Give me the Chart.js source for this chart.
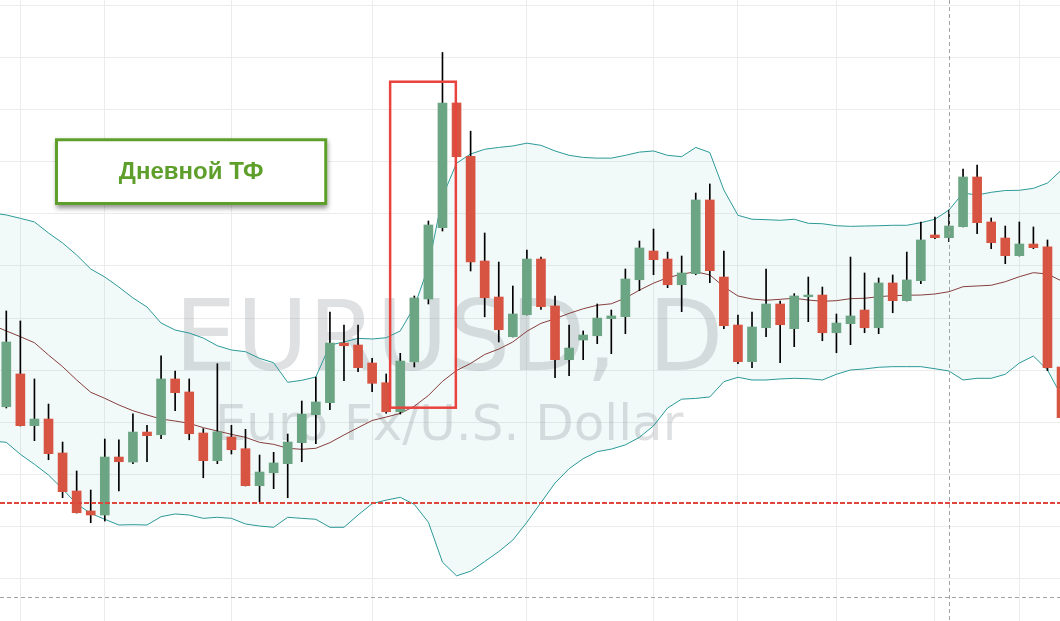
<!DOCTYPE html>
<html>
<head>
<meta charset="utf-8">
<script src="https://cdn.jsdelivr.net/npm/chart.js@4.4.1/dist/chart.umd.min.js"></script>
<style>
  html, body { margin: 0; padding: 0; background: #ffffff; }
  #wrap { width: 1060px; height: 621px; }
</style>
</head>
<body>
<div id="wrap"><canvas id="chart" width="1060" height="621"></canvas></div>
<script>
// EURUSD daily candles, oldest first
const opens = [
  1.11648, 1.11963, 1.11466, 1.11530, 1.11204, 1.10839, 1.10647, 1.10608, 1.11165, 1.11117,
  1.11405, 1.11379, 1.11915, 1.11790, 1.11396, 1.11130, 1.11357, 1.11245, 1.10890, 1.11014,
  1.11101, 1.11303, 1.11572, 1.11687, 1.12260, 1.12241, 1.12068, 1.11879, 1.11600, 1.12078,
  1.12683, 1.13368, 1.14566, 1.14054, 1.13048, 1.12702, 1.12321, 1.12532, 1.13067, 1.12616,
  1.12100, 1.12289, 1.12330, 1.12494, 1.12513, 1.12868, 1.13144, 1.13067, 1.12820, 1.12926,
  1.13634, 1.12894, 1.12433, 1.12081, 1.12407, 1.12635, 1.12398, 1.12705, 1.12721, 1.12359,
  1.12446, 1.12577, 1.12407, 1.12837, 1.12667, 1.12859, 1.13298, 1.13272, 1.13378, 1.13855,
  1.13423, 1.13269, 1.13099, 1.13211, 1.13183, 1.12030
];
const highs = [
  1.12568, 1.12472, 1.11915, 1.11674, 1.11309, 1.11031, 1.10848, 1.11338, 1.11331, 1.11581,
  1.11470, 1.12138, 1.11991, 1.11915, 1.11437, 1.12061, 1.11470, 1.11431, 1.11184, 1.11210,
  1.11386, 1.11703, 1.11934, 1.12558, 1.12433, 1.12433, 1.12113, 1.11963, 1.12161, 1.12712,
  1.13432, 1.15051, 1.14566, 1.14295, 1.13317, 1.13038, 1.12808, 1.13154, 1.13086, 1.12712,
  1.12433, 1.12376, 1.12635, 1.12577, 1.12971, 1.13240, 1.13355, 1.13134, 1.13096, 1.13701,
  1.13788, 1.13144, 1.12529, 1.12558, 1.12971, 1.12664, 1.12734, 1.12894, 1.12798, 1.12539,
  1.13086, 1.12933, 1.12885, 1.12914, 1.13134, 1.13423, 1.13471, 1.13538, 1.13932, 1.13970,
  1.13461, 1.13384, 1.13423, 1.13375, 1.13250, 1.12030
];
const lows = [
  1.11636, 1.11463, 1.11322, 1.11139, 1.10774, 1.10627, 1.10534, 1.10550, 1.10839, 1.11101,
  1.11120, 1.11341, 1.11610, 1.11331, 1.10966, 1.11101, 1.11194, 1.10887, 1.10736, 1.10861,
  1.10774, 1.11120, 1.11293, 1.11620, 1.11898, 1.11985, 1.11793, 1.11585, 1.11578, 1.12030,
  1.12635, 1.13336, 1.14050, 1.12952, 1.12512, 1.12270, 1.12318, 1.12529, 1.12584, 1.11927,
  1.11946, 1.12100, 1.12254, 1.12158, 1.12350, 1.12763, 1.12916, 1.12792, 1.12561, 1.12916,
  1.12840, 1.12398, 1.12061, 1.12023, 1.12321, 1.12071, 1.12225, 1.12465, 1.12282, 1.12167,
  1.12244, 1.12359, 1.12350, 1.12551, 1.12664, 1.12830, 1.13262, 1.13233, 1.13375, 1.13310,
  1.13166, 1.13022, 1.13096, 1.13166, 1.11994, 1.11543
];
const closes = [
  1.12270, 1.11466, 1.11530, 1.11197, 1.10832, 1.10630, 1.10608, 1.11165, 1.11120, 1.11405,
  1.11370, 1.11915, 1.11783, 1.11389, 1.11130, 1.11408, 1.11235, 1.10890, 1.11021, 1.11108,
  1.11309, 1.11578, 1.11694, 1.12260, 1.12234, 1.12023, 1.11873, 1.11600, 1.12087, 1.12693,
  1.13394, 1.14566, 1.14050, 1.13038, 1.12695, 1.12388, 1.12539, 1.13067, 1.12609, 1.12100,
  1.12212, 1.12337, 1.12500, 1.12520, 1.12875, 1.13173, 1.13061, 1.12820, 1.12933, 1.13634,
  1.12955, 1.12427, 1.12081, 1.12414, 1.12635, 1.12436, 1.12712, 1.12721, 1.12359, 1.12452,
  1.12520, 1.12407, 1.12837, 1.12667, 1.12866, 1.13250, 1.13272, 1.13384, 1.13855, 1.13416,
  1.13224, 1.13099, 1.13211, 1.13176, 1.12023, 1.11543
];

// Bollinger bands; these start one bar earlier (just off the left edge)
const bbUpper = [
  1.13509,
  1.13490, 1.13458, 1.13423, 1.13317, 1.13221, 1.13106, 1.12971, 1.12894, 1.12798, 1.12693,
  1.12606, 1.12452, 1.12385, 1.12356, 1.12308, 1.12234, 1.12193, 1.12177, 1.12113, 1.12071,
  1.11883, 1.11902, 1.11934, 1.12241, 1.12270, 1.12305, 1.12299, 1.12311, 1.12376, 1.12609,
  1.12993, 1.13666, 1.13987, 1.14076, 1.14121, 1.14139, 1.14153, 1.14180, 1.14159, 1.14105,
  1.14063, 1.14043, 1.14036, 1.14036, 1.14063, 1.14094, 1.14105, 1.14063, 1.14050, 1.14139,
  1.14090, 1.13730, 1.13487, 1.13449, 1.13445, 1.13439, 1.13449, 1.13410, 1.13406, 1.13387,
  1.13381, 1.13384, 1.13387, 1.13391, 1.13391, 1.13416, 1.13449, 1.13538, 1.13701, 1.13682,
  1.13708, 1.13725, 1.13727, 1.13746, 1.13797, 1.13922
];
const bbBasis = [
  1.12433,
  1.12376, 1.12321, 1.12263, 1.12145, 1.12033, 1.11905, 1.11787, 1.11729, 1.11665, 1.11610,
  1.11569, 1.11530, 1.11511, 1.11489, 1.11447, 1.11415, 1.11383, 1.11354, 1.11306, 1.11287,
  1.11249, 1.11239, 1.11249, 1.11303, 1.11377, 1.11447, 1.11516, 1.11549, 1.11584, 1.11653,
  1.11756, 1.11892, 1.11996, 1.12064, 1.12150, 1.12202, 1.12270, 1.12373, 1.12449, 1.12493,
  1.12545, 1.12589, 1.12623, 1.12637, 1.12692, 1.12768, 1.12835, 1.12888, 1.12921, 1.12945,
  1.12914, 1.12801, 1.12712, 1.12683, 1.12671, 1.12680, 1.12690, 1.12673, 1.12661, 1.12667,
  1.12686, 1.12690, 1.12705, 1.12715, 1.12719, 1.12721, 1.12731, 1.12753, 1.12801, 1.12808,
  1.12815, 1.12849, 1.12897, 1.12936, 1.12923, 1.12856
];
const bbLower = [
  1.11319,
  1.11306, 1.11191, 1.11095, 1.10992, 1.10858, 1.10714, 1.10624, 1.10567, 1.10512, 1.10515,
  1.10512, 1.10592, 1.10618, 1.10608, 1.10576, 1.10586, 1.10576, 1.10522, 1.10502, 1.10490,
  1.10586, 1.10576, 1.10567, 1.10490, 1.10490, 1.10608, 1.10717, 1.10751, 1.10778, 1.10710,
  1.10538, 1.10155, 1.10024, 1.10068, 1.10161, 1.10257, 1.10367, 1.10538, 1.10727, 1.10915,
  1.11053, 1.11149, 1.11217, 1.11241, 1.11282, 1.11354, 1.11464, 1.11636, 1.11721, 1.11728,
  1.11742, 1.11889, 1.11931, 1.11905, 1.11905, 1.11915, 1.11921, 1.11917, 1.11905, 1.11960,
  1.12001, 1.12011, 1.12027, 1.12033, 1.12033, 1.12033, 1.12013, 1.11991, 1.11905, 1.11921,
  1.11921, 1.11960, 1.12068, 1.12135, 1.12001, 1.11751
];

// grid: price levels every 50 pips, time lines at these candles
const priceGrid = [1.100, 1.105, 1.110, 1.115, 1.120, 1.125, 1.130, 1.135, 1.140, 1.145, 1.150, 1.155];
const timeGrid = [1, 7, 16, 26, 37, 46, 52, 59, 66, 72];

// drawings on the chart
const levelPrice = 1.10720;
const crossCandle = 67;
const crossPrice = 1.09825;
const boxCandles = [27.28, 31.95];
const boxPrices = [1.11639, 1.14770];
const labelText = "Дневной ТФ";
const labelCandles = [3.46, 22.81];
const labelPrices = [1.13586, 1.14227];
const watermark = ["EURUSD, D", "Euro Fx/U.S. Dollar"];

const UP = "#6ba583";
const DOWN = "#d75442";
const GRID = "#ececec";
const BAND = "#2b9a98";

const idx = opens.map((_, i) => i);
const bodies = idx.map(i => ({ x: i, y: [opens[i], closes[i]] }));
const wicks = idx.map(i => ({ x: i, y: [lows[i], highs[i]] }));
const candleColors = idx.map(i => (closes[i] >= opens[i] ? UP : DOWN));
const asLine = arr => arr.map((v, i) => ({ x: i - 1, y: v }));

// big pair name behind the chart
const watermarkPlugin = {
  id: "watermark",
  beforeDatasetsDraw(chart) {
    const { ctx } = chart;
    ctx.save();
    ctx.fillStyle = "rgba(140,145,150,0.28)";
    ctx.textAlign = "center";
    ctx.textBaseline = "alphabetic";
    ctx.font = '98px "DejaVu Sans"';
    ctx.fillText(watermark[0], 449, 370);
    ctx.font = '50px "DejaVu Sans"';
    ctx.fillText(watermark[1], 449, 440);
    ctx.restore();
  }
};

// level line, crosshair, highlight box and the label
const drawingsPlugin = {
  id: "drawings",
  afterDatasetsDraw(chart) {
    const { ctx, chartArea: a, scales: { x, y } } = chart;
    ctx.save();

    // dotted support level
    const ly = Math.round(y.getPixelForValue(levelPrice));
    ctx.strokeStyle = "#e0473c";
    ctx.lineWidth = 2;
    ctx.setLineDash([5, 2]);
    ctx.beginPath();
    ctx.moveTo(a.left, ly);
    ctx.lineTo(a.right, ly);
    ctx.stroke();

    // crosshair
    const cx = Math.round(x.getPixelForValue(crossCandle)) + 0.5;
    const cy = Math.round(y.getPixelForValue(crossPrice)) + 0.5;
    ctx.strokeStyle = "#a3a3a3";
    ctx.lineWidth = 1;
    ctx.setLineDash([4, 3]);
    ctx.beginPath();
    ctx.moveTo(cx, a.top);
    ctx.lineTo(cx, a.bottom);
    ctx.moveTo(a.left, cy);
    ctx.lineTo(a.right, cy);
    ctx.stroke();
    ctx.setLineDash([]);

    // red box around the breakout candles
    const bl = x.getPixelForValue(boxCandles[0]);
    const br = x.getPixelForValue(boxCandles[1]);
    const bt = y.getPixelForValue(boxPrices[1]);
    const bb = y.getPixelForValue(boxPrices[0]);
    ctx.strokeStyle = "#e8433d";
    ctx.lineWidth = 2.5;
    ctx.strokeRect(bl, bt, br - bl, bb - bt);

    // label card
    const ll = x.getPixelForValue(labelCandles[0]);
    const lr = x.getPixelForValue(labelCandles[1]);
    const lt = y.getPixelForValue(labelPrices[1]);
    const lb = y.getPixelForValue(labelPrices[0]);
    ctx.shadowColor = "rgba(0,0,0,0.45)";
    ctx.shadowBlur = 5;
    ctx.shadowOffsetX = 1;
    ctx.shadowOffsetY = 3;
    ctx.fillStyle = "#ffffff";
    ctx.fillRect(ll, lt, lr - ll, lb - lt);
    ctx.shadowColor = "transparent";
    ctx.strokeStyle = "#5e9f2c";
    ctx.lineWidth = 3;
    ctx.strokeRect(ll + 1.5, lt + 1.5, lr - ll - 3, lb - lt - 3);
    ctx.fillStyle = "#5e9f2c";
    ctx.font = 'bold 24px "Liberation Sans"';
    ctx.textAlign = "center";
    ctx.textBaseline = "middle";
    ctx.fillText(labelText, (ll + lr) / 2, (lt + lb) / 2 + 1);

    ctx.restore();
  }
};

new Chart(document.getElementById("chart"), {
  type: "bar",
  data: {
    datasets: [
      {
        type: "line",
        data: asLine(bbUpper),
        borderColor: BAND,
        borderWidth: 1,
        pointRadius: 0,
        fill: "+2",
        backgroundColor: "rgba(0,128,128,0.05)",
        order: 3
      },
      {
        type: "line",
        data: asLine(bbBasis),
        borderColor: "#8e3a3a",
        borderWidth: 1,
        pointRadius: 0,
        fill: false,
        order: 3
      },
      {
        type: "line",
        data: asLine(bbLower),
        borderColor: BAND,
        borderWidth: 1,
        pointRadius: 0,
        fill: false,
        order: 3
      },
      {
        type: "bar",
        data: wicks,
        backgroundColor: "#000000",
        barThickness: 1,
        grouped: false,
        order: 2
      },
      {
        type: "bar",
        data: bodies,
        backgroundColor: candleColors,
        barThickness: 9,
        grouped: false,
        order: 1
      }
    ]
  },
  options: {
    responsive: false,
    animation: false,
    layout: { padding: 0 },
    plugins: { legend: { display: false }, tooltip: { enabled: false } },
    scales: {
      x: {
        type: "linear",
        min: -0.448,
        max: 74.89,
        offset: false,
        ticks: { display: false },
        grid: { color: GRID, drawTicks: false, offset: false },
        border: { display: false },
        afterBuildTicks: s => { s.ticks = timeGrid.map(v => ({ value: v })); }
      },
      y: {
        type: "linear",
        min: 1.09590,
        max: 1.15555,
        ticks: { display: false },
        grid: { color: GRID, drawTicks: false },
        border: { display: false },
        afterBuildTicks: s => { s.ticks = priceGrid.map(v => ({ value: v })); }
      }
    }
  },
  plugins: [watermarkPlugin, drawingsPlugin]
});
</script>
</body>
</html>
